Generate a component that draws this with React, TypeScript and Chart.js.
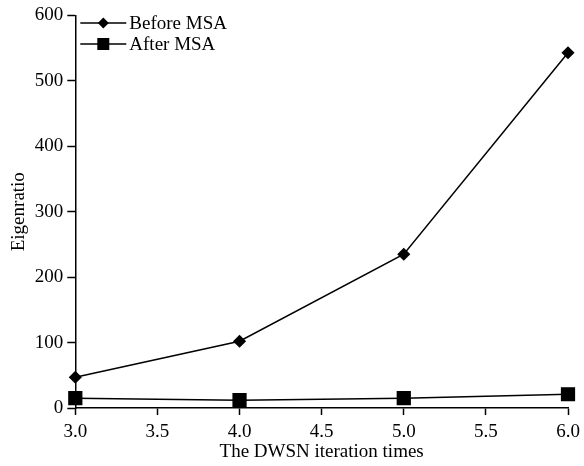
import React, { useEffect, useRef } from "react";
import { Chart, registerables } from "chart.js";

Chart.register(...registerables);

const xValues = [3.0, 4.0, 5.0, 6.0];
const beforeMSA = [47, 102, 235, 543];
const afterMSA = [15, 12, 15, 21];
const seriesLabels = ["Before MSA", "After MSA"];
const xTitle = "The DWSN iteration times";
const yTitle = "Eigenratio";

const FONT = "'Liberation Serif', 'Times New Roman', serif";
const FS = 19;

const lineLegend = {
  id: "lineLegend",
  afterDraw(chart: any) {
    const ctx = chart.ctx;
    const area = chart.chartArea;
    ctx.save();
    chart.data.datasets.forEach((ds: any, i: number) => {
      const y = 23 + i * 21;
      const x0 = area.left + 5;
      const x1 = x0 + 46;
      ctx.strokeStyle = "#000";
      ctx.lineWidth = 1.5;
      ctx.beginPath();
      ctx.moveTo(x0, y);
      ctx.lineTo(x1, y);
      ctx.stroke();
      ctx.fillStyle = "#000";
      const cx = (x0 + x1) / 2;
      ctx.beginPath();
      if (ds.pointStyle === "rect") {
        ctx.rect(cx - 6, y - 6, 12, 12);
      } else {
        ctx.moveTo(cx, y - 5.5);
        ctx.lineTo(cx + 5.5, y);
        ctx.lineTo(cx, y + 5.5);
        ctx.lineTo(cx - 5.5, y);
        ctx.closePath();
      }
      ctx.fill();
      ctx.font = FS + "px " + FONT;
      ctx.textBaseline = "middle";
      ctx.textAlign = "left";
      ctx.fillText(ds.label, x1 + 3, y + 1);
    });
    ctx.restore();
  },
};

export default function App() {
  const ref = useRef<HTMLCanvasElement | null>(null);
  useEffect(() => {
    if (!ref.current) return;
    const chart = new Chart(ref.current, {
      type: "line",
      data: {
        datasets: [
          {
            label: seriesLabels[0],
            data: xValues.map((x, i) => ({ x, y: beforeMSA[i] })),
            borderColor: "#000",
            backgroundColor: "#000",
            borderWidth: 1.5,
            pointStyle: "rectRot",
            pointRadius: 5.5,
            pointHoverRadius: 5.5,
            tension: 0,
            clip: false,
          },
          {
            label: seriesLabels[1],
            data: xValues.map((x, i) => ({ x, y: afterMSA[i] })),
            borderColor: "#000",
            backgroundColor: "#000",
            borderWidth: 1.5,
            pointStyle: "rect",
            pointRadius: 9,
            pointHoverRadius: 9,
            tension: 0,
            clip: false,
          },
        ],
      },
      options: {
        animation: false,
        responsive: false,
        maintainAspectRatio: false,
        layout: { padding: { left: 8, right: 16, top: 14, bottom: 4 } },
        plugins: { legend: { display: false }, tooltip: { enabled: false } },
        scales: {
          x: {
            type: "linear",
            min: 3,
            max: 6,
            afterFit: (scale: any) => {
              scale.paddingRight = 0;
            },
            ticks: {
              stepSize: 0.5,
              color: "#000",
              font: { family: FONT, size: FS, lineHeight: 1 },
              callback: (v: any) => Number(v).toFixed(1),
              padding: 8,
              maxRotation: 0,
            },
            grid: { drawOnChartArea: false, tickLength: 7, tickColor: "#000", tickWidth: 1.5 },
            border: { color: "#000", width: 1.5 },
            title: { display: true, text: xTitle, color: "#000", font: { family: FONT, size: FS, lineHeight: 1 }, padding: { top: -7, bottom: 0 } },
          },
          y: {
            type: "linear",
            min: 0,
            max: 600,
            ticks: {
              stepSize: 100,
              color: "#000",
              font: { family: FONT, size: FS },
              padding: 4,
            },
            grid: { drawOnChartArea: false, tickLength: 8, tickColor: "#000", tickWidth: 1.5 },
            border: { color: "#000", width: 1.5 },
            title: { display: true, text: yTitle, color: "#000", font: { family: FONT, size: FS }, padding: { top: 0, bottom: 0 } },
          },
        },
      },
      plugins: [lineLegend],
    });
    return () => chart.destroy();
  }, []);
  return (
    <div style={{ position: "fixed", left: 0, top: 0, width: 584, height: 466, background: "#fff" }}>
      <canvas ref={ref} width={584} height={466} style={{ width: 584, height: 466 }} />
    </div>
  );
}
